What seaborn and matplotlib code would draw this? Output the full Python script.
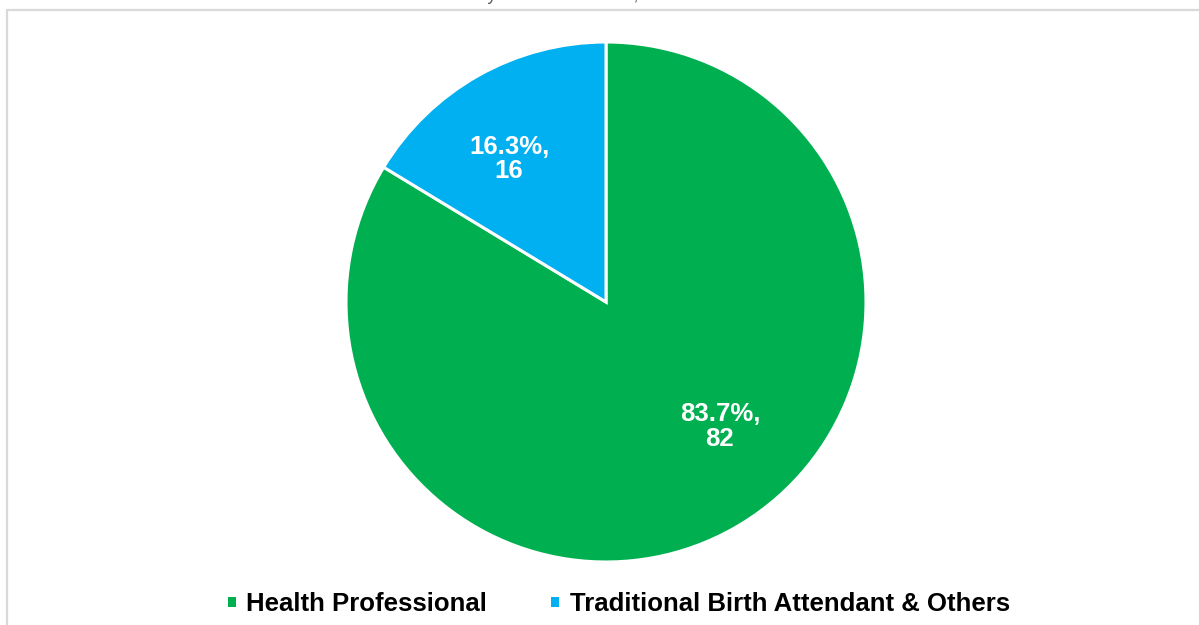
import matplotlib
matplotlib.use("Agg")
import matplotlib.pyplot as plt
import seaborn as sns
from matplotlib.lines import Line2D
from matplotlib.patches import Patch

sns.set_theme(style="white")
plt.rcParams['font.family'] = ['Liberation Sans', 'DejaVu Sans']

categories = ["Health Professional", "Traditional Birth Attendant & Others"]
counts = [82, 16]
percents = [83.7, 16.3]
colors = ["#00B050", "#00B0F0"]
title_text = "Deliveries by Attendant Status, First Semester 2023"

W, H = 1199, 625
fig = plt.figure(figsize=(W / 100, H / 100), dpi=100)
fig.patch.set_facecolor("white")

# outer border (top and left visible)
fig.add_artist(Line2D([7 / W, 1], [1 - 10 / H, 1 - 10 / H], color="#D9D9D9", lw=1.6, transform=fig.transFigure))
fig.add_artist(Line2D([7 / W, 7 / W], [0, 1 - 10 / H], color="#D9D9D9", lw=1.6, transform=fig.transFigure))

# title, mostly above the visible area as in the reference
fig.text(0.5, 1 + 5 / H, title_text, ha="center", va="center", fontsize=13, color="#595959")

cx, cy, r = 606, 302, 260
ax = fig.add_axes([(cx - r) / W, 1 - (cy + r) / H, 2 * r / W, 2 * r / H])
wedges, _ = ax.pie(counts, colors=colors, startangle=90, counterclock=False, radius=1,
                   wedgeprops=dict(edgecolor="white", linewidth=2.2))
ax.set_xlim(-1, 1)
ax.set_ylim(-1, 1)
ax.set_aspect("equal")
ax.axis("off")

label_pos = [(0.438, -0.48), (-0.373, 0.55)]
for (x, y), p, c in zip(label_pos, percents, counts):
    ax.text(x, y, f"{p:.1f}%,\n{c}", ha="center", va="center", color="white",
            fontsize=18.5, fontweight="bold", linespacing=1.05)

handles = [Patch(facecolor=col, edgecolor="none") for col in colors]
fig.legend(handles, categories, loc="center", bbox_to_anchor=(0.516, 1 - 604 / H), ncol=2,
           frameon=False, prop=dict(size=18.5, weight="bold"), labelcolor="black",
           handlelength=0.32, handleheight=0.22,
           handletextpad=0.4, columnspacing=2.5)

fig.savefig("out.png", dpi=100, facecolor="white")
